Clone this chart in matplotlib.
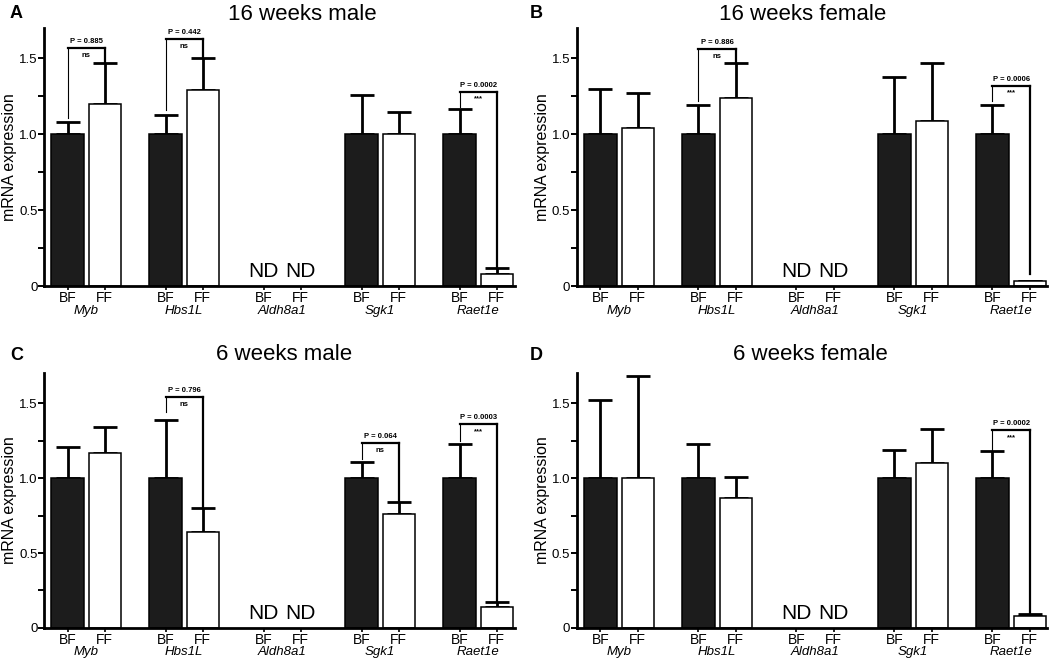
import numpy as np
import matplotlib.pyplot as plt

plt.rcParams['font.family'] = ['Liberation Sans', 'DejaVu Sans']

nd = np.nan
genes = ['Myb', 'Hbs1L', 'Aldh8a1', 'Sgk1', 'Raet1e']

# 16 weeks male
a_bf = [1.0, 1.0, nd, 1.0, 1.0]
a_bf_err = [0.08, 0.13, nd, 0.26, 0.17]
a_ff = [1.20, 1.29, nd, 1.00, 0.08]
a_ff_err = [0.27, 0.21, nd, 0.15, 0.04]
a_tests = [(0, 1.11, 1.47, 1.57, 'P = 0.885', 'ns'),
           (1, 1.16, 1.50, 1.625, 'P = 0.442', 'ns'),
           (4, 1.18, 0.12, 1.28, 'P = 0.0002', '***')]

# 16 weeks female
b_bf = [1.0, 1.0, nd, 1.0, 1.0]
b_bf_err = [0.30, 0.19, nd, 0.38, 0.19]
b_ff = [1.04, 1.24, nd, 1.09, 0.03]
b_ff_err = [0.23, 0.23, nd, 0.38, 0.0]
b_tests = [(1, 1.22, 1.47, 1.56, 'P = 0.886', 'ns'),
           (4, 1.22, 0.08, 1.32, 'P = 0.0006', '***')]

# 6 weeks male
c_bf = [1.0, 1.0, nd, 1.0, 1.0]
c_bf_err = [0.21, 0.39, nd, 0.11, 0.23]
c_ff = [1.17, 0.64, nd, 0.76, 0.14]
c_ff_err = [0.17, 0.16, nd, 0.08, 0.03]
c_tests = [(1, 1.44, 0.80, 1.54, 'P = 0.796', 'ns'),
           (3, 1.13, 0.84, 1.235, 'P = 0.064', 'ns'),
           (4, 1.25, 0.17, 1.36, 'P = 0.0003', '***')]

# 6 weeks female
d_bf = [1.0, 1.0, nd, 1.0, 1.0]
d_bf_err = [0.52, 0.23, nd, 0.19, 0.18]
d_ff = [1.00, 0.87, nd, 1.10, 0.08]
d_ff_err = [0.68, 0.14, nd, 0.23, 0.01]
d_tests = [(4, 1.19, 0.09, 1.32, 'P = 0.0002', '***')]


def draw_panel(ax, bf, bf_err, ff, ff_err, tests):
    bf = np.array(bf); bf_err = np.array(bf_err)
    ff = np.array(ff); ff_err = np.array(ff_err)
    x = np.arange(len(genes))
    xb = x - 0.19
    xf = x + 0.19
    ok = ~np.isnan(bf)
    n = ok.sum()
    ax.bar(xb[ok], bf[ok], width=0.33, color='#1c1c1c', edgecolor='black', linewidth=1.1, zorder=2)
    ax.bar(xf[ok], ff[ok], width=0.33, color='white', edgecolor='black', linewidth=1.1, zorder=2)
    ax.errorbar(xb[ok], bf[ok], yerr=[np.zeros(n), bf_err[ok]], fmt='none', ecolor='black',
                elinewidth=2, capsize=8.5, capthick=2, zorder=1)
    ax.errorbar(xf[ok], ff[ok], yerr=[np.zeros(n), ff_err[ok]], fmt='none', ecolor='black',
                elinewidth=2, capsize=8.5, capthick=2, zorder=1)
    for i in np.where(~ok)[0]:
        ax.text(xb[i], 0.035, 'ND', ha='center', va='bottom', fontsize=15)
        ax.text(xf[i], 0.035, 'ND', ha='center', va='bottom', fontsize=15)

    for i, left, right, top, ptxt, star in tests:
        ax.plot([xb[i], xb[i]], [left, top], color='black', lw=0.8)
        ax.plot([xb[i], xf[i]], [top, top], color='black', lw=1.6, solid_capstyle='projecting')
        ax.plot([xf[i], xf[i]], [top, right], color='black', lw=1.6)
        ax.text(x[i], top + 0.02, ptxt, ha='center', va='bottom', fontsize=5.5, fontweight='bold')
        ax.text(x[i], top - 0.025, star, ha='center', va='top', fontsize=5.5, fontweight='bold')

    ticks = np.ravel(np.column_stack([xb, xf]))
    ax.set_xticks(ticks, ['BF', 'FF'] * len(genes))
    for i, g in enumerate(genes):
        ax.text(x[i], -0.072, g, transform=ax.get_xaxis_transform(), ha='center', va='top',
                style='italic', fontsize=9.5)
    ax.set_xlim(-0.43, 4.37)
    ax.set_ylim(0, 1.7)
    ax.set_yticks([0, 0.5, 1.0, 1.5], ['0', '0.5', '1.0', '1.5'])
    ax.set_yticks([0.25, 0.75, 1.25], minor=True)
    ax.tick_params(axis='x', length=3, width=1.2, pad=0.5, labelsize=10)
    ax.tick_params(axis='y', which='both', length=4, width=1.4, labelsize=9.5, pad=0.8)
    ax.set_ylabel('mRNA expression', fontsize=11.5)
    ax.yaxis.set_label_coords(-0.073, 0.5)
    ax.yaxis.label.set_va('center')
    for s in ['top', 'right']:
        ax.spines[s].set_visible(False)
    for s in ['left', 'bottom']:
        ax.spines[s].set_linewidth(2)


fig = plt.figure(figsize=(10.5, 6.58), dpi=100)
w = 0.448
ax_a = fig.add_axes([0.042, 0.5653, w, 0.392])
ax_b = fig.add_axes([0.5495, 0.5653, w, 0.392])
ax_c = fig.add_axes([0.042, 0.0456, w, 0.3875])
ax_d = fig.add_axes([0.5495, 0.0456, w, 0.3875])

draw_panel(ax_a, a_bf, a_bf_err, a_ff, a_ff_err, a_tests)
draw_panel(ax_b, b_bf, b_bf_err, b_ff, b_ff_err, b_tests)
draw_panel(ax_c, c_bf, c_bf_err, c_ff, c_ff_err, c_tests)
draw_panel(ax_d, d_bf, d_bf_err, d_ff, d_ff_err, d_tests)

fig.text(302 / 1050, 1 - 15 / 658, '16 weeks male', ha='center', va='center', fontsize=16)
fig.text(803 / 1050, 1 - 15 / 658, '16 weeks female', ha='center', va='center', fontsize=16)
fig.text(284 / 1050, 1 - 355 / 658, '6 weeks male', ha='center', va='center', fontsize=16)
fig.text(810 / 1050, 1 - 355 / 658, '6 weeks female', ha='center', va='center', fontsize=16)

fig.text(10 / 1050, 1 - 13 / 658, 'A', ha='left', va='center', fontsize=13, fontweight='bold')
fig.text(530 / 1050, 1 - 13 / 658, 'B', ha='left', va='center', fontsize=13, fontweight='bold')
fig.text(10 / 1050, 1 - 355 / 658, 'C', ha='left', va='center', fontsize=13, fontweight='bold')
fig.text(530 / 1050, 1 - 355 / 658, 'D', ha='left', va='center', fontsize=13, fontweight='bold')

fig.savefig('out.png', dpi=100)
